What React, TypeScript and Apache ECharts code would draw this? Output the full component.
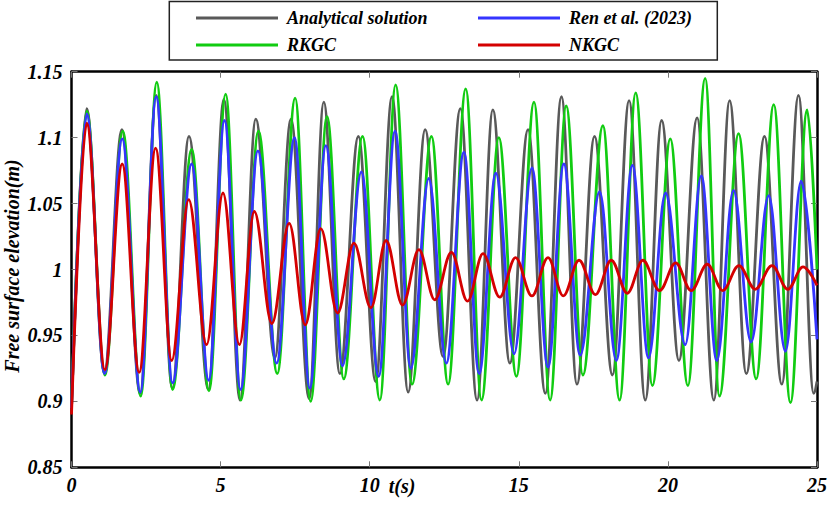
import React, { useEffect, useRef } from "react";
import * as echarts from "echarts";

// ---- data (t in s, free surface elevation in m), extrema of each curve ----
const X_MIN = 0;
const X_MAX = 25;
const X_STEP = 5;
const Y_MIN = 0.85;
const Y_MAX = 1.15;
const Y_STEP = 0.05;

const NAMES = ["Analytical solution", "RKGC", "Ren et al. (2023)", "NKGC"];

const analytical: [number, number][] = [
  [0, 0.895], [0.51, 1.122], [1.10, 0.922], [1.69, 1.106], [2.30, 0.906], [2.84, 1.132],
  [3.38, 0.910], [3.94, 1.101], [4.59, 0.909], [5.11, 1.129], [5.65, 0.901], [6.18, 1.114],
  [6.82, 0.933], [7.36, 1.114], [7.97, 0.902], [8.46, 1.127], [9.00, 0.921], [9.62, 1.101],
  [10.20, 0.915], [10.75, 1.131], [11.29, 0.907], [11.86, 1.106], [12.46, 0.934], [13.04, 1.122],
  [13.60, 0.901], [14.13, 1.121], [14.70, 0.929], [15.31, 1.106], [15.89, 0.906], [16.43, 1.131],
  [16.95, 0.913], [17.54, 1.101], [18.14, 0.920], [18.70, 1.128], [19.24, 0.901], [19.79, 1.113],
  [20.37, 0.931], [20.98, 1.115], [21.54, 0.901], [22.07, 1.128], [22.63, 0.921], [23.24, 1.101],
  [23.82, 0.913], [24.38, 1.132], [24.89, 0.906], [25, 0.915],
];

const rkgc: [number, number][] = [
  [0, 0.895], [0.51, 1.120], [1.12, 0.920], [1.72, 1.105], [2.32, 0.904], [2.86, 1.142],
  [3.39, 0.909], [4.03, 1.091], [4.61, 0.908], [5.17, 1.133], [5.68, 0.901], [6.27, 1.105],
  [6.90, 0.921], [7.50, 1.130], [8.02, 0.900], [8.57, 1.116], [9.13, 0.917], [9.76, 1.101],
  [10.34, 0.901], [10.87, 1.140], [11.42, 0.913], [12.07, 1.101], [12.63, 0.913], [13.22, 1.137],
  [13.75, 0.901], [14.33, 1.100], [14.92, 0.919], [15.51, 1.127], [16.05, 0.901], [16.59, 1.124],
  [17.15, 0.920], [17.82, 1.109], [18.38, 0.901], [18.92, 1.134], [19.48, 0.912], [20.08, 1.099],
  [20.67, 0.912], [21.25, 1.145], [21.73, 0.904], [22.37, 1.103], [22.96, 0.917], [23.55, 1.125],
  [24.11, 0.899], [24.67, 1.121], [25, 1.0],
];

const ren2023: [number, number][] = [
  [0, 0.895], [0.51, 1.118], [1.11, 0.921], [1.70, 1.099], [2.31, 0.907], [2.84, 1.131],
  [3.39, 0.914], [4.03, 1.080], [4.60, 0.916], [5.13, 1.113], [5.67, 0.909], [6.25, 1.090],
  [6.88, 0.929], [7.48, 1.100], [7.99, 0.910], [8.53, 1.094], [9.09, 0.927], [9.72, 1.074],
  [10.30, 0.919], [10.85, 1.105], [11.38, 0.925], [11.98, 1.069], [12.57, 0.929], [13.16, 1.089],
  [13.67, 0.921], [14.23, 1.073], [14.84, 0.936], [15.44, 1.077], [15.98, 0.926], [16.51, 1.080],
  [17.06, 0.935], [17.71, 1.059], [18.27, 0.931], [18.81, 1.079], [19.35, 0.933], [19.92, 1.058],
  [20.58, 0.943], [21.12, 1.071], [21.64, 0.931], [22.20, 1.060], [22.79, 0.945], [23.38, 1.056],
  [23.94, 0.938], [24.47, 1.067], [25, 0.947],
];

const nkgc: [number, number][] = [
  [0, 0.890], [0.51, 1.111], [1.12, 0.924], [1.70, 1.080], [2.27, 0.922], [2.82, 1.092],
  [3.36, 0.931], [3.93, 1.053], [4.53, 0.943], [5.08, 1.058], [5.63, 0.943], [6.13, 1.044],
  [6.72, 0.959], [7.30, 1.035], [7.84, 0.958], [8.36, 1.031], [8.92, 0.967], [9.47, 1.020],
  [10.04, 0.971], [10.55, 1.022], [11.10, 0.973], [11.65, 1.015], [12.18, 0.977], [12.74, 1.013],
  [13.28, 0.976], [13.80, 1.012], [14.36, 0.979], [14.89, 1.009], [15.44, 0.980], [15.98, 1.009],
  [16.49, 0.980], [17.02, 1.007], [17.57, 0.981], [18.10, 1.007], [18.64, 0.982], [19.16, 1.007],
  [19.72, 0.984], [20.26, 1.005], [20.78, 0.984], [21.32, 1.004], [21.84, 0.984], [22.38, 1.003],
  [22.93, 0.985], [23.49, 1.003], [24.02, 0.985], [24.53, 1.002], [25, 0.988],
];

const COLORS = ["#595959", "#11cc11", "#3535ff", "#d40000"];
const FONT = "'Liberation Serif', 'Times New Roman', serif";

export default function App() {
  const ref = useRef<HTMLDivElement>(null);

  useEffect(() => {
    if (!ref.current) return;
    const chart = echarts.init(ref.current, null, { renderer: "svg" });

    const labelStyle = {
      fontFamily: FONT,
      fontSize: 20,
      fontWeight: "bold" as const,
      fontStyle: "italic" as const,
      color: "#000",
    };
    const axisLine = { show: true, onZero: false, lineStyle: { color: "#000", width: 2.5 } };
    const axisTick = { show: true, inside: true, length: 6, lineStyle: { color: "#777", width: 1 } };

    const legendText = {
      fontFamily: FONT, fontSize: 18, fontWeight: "bold", fontStyle: "italic",
      color: "#000", lineHeight: 20, padding: [0, 0, 0, 4],
    };
    const legendBase = {
      orient: "vertical",
      top: 3,
      icon: "rect",
      itemWidth: 82,
      itemHeight: 3,
      itemGap: 7,
      selectedMode: false,
      textStyle: legendText,
    };

    const datasets = [analytical, rkgc, ren2023, nkgc];

    const option: any = {
      animation: false,
      backgroundColor: "#fff",
      grid: { left: 71.5, right: 12.5, top: 71.7, bottom: 46.7, containLabel: false },
      legend: [
        { ...legendBase, data: [NAMES[0], NAMES[1]], left: 191 },
        { ...legendBase, data: [NAMES[2], NAMES[3]], left: 473 },
      ],
      xAxis: [
        {
          type: "value", min: X_MIN, max: X_MAX, interval: X_STEP, position: "bottom",
          axisLine, axisTick, splitLine: { show: false },
          axisLabel: { ...labelStyle, margin: 8 },
        },
        {
          type: "value", min: X_MIN, max: X_MAX, interval: X_STEP, position: "top",
          axisLine, axisTick, splitLine: { show: false }, axisLabel: { show: false },
        },
      ],
      yAxis: [
        {
          type: "value", min: Y_MIN, max: Y_MAX, interval: Y_STEP, position: "left",
          axisLine, axisTick, splitLine: { show: false },
          axisLabel: {
            ...labelStyle, margin: 9,
            formatter: (v: number) => String(parseFloat(v.toFixed(2))),
          },
        },
        {
          type: "value", min: Y_MIN, max: Y_MAX, interval: Y_STEP, position: "right",
          axisLine, axisTick, splitLine: { show: false }, axisLabel: { show: false },
        },
      ],
      series: datasets.map((d, i) => ({
        name: NAMES[i],
        type: "line",
        xAxisIndex: 0,
        yAxisIndex: 0,
        data: d,
        symbol: "none",
        showSymbol: false,
        smooth: 0.36,
        smoothMonotone: "x",
        z: 2 + i,
        lineStyle: { color: COLORS[i], width: 2.8 },
        itemStyle: { color: COLORS[i] },
      })),
      graphic: [
        {
          type: "rect",
          shape: { x: 169.3, y: 1.5, width: 548, height: 58.5 },
          style: { fill: "none", stroke: "#222", lineWidth: 1.5 },
          silent: true,
        },
        {
          type: "text",
          x: 402,
          y: 486,
          style: {
            text: "t(s)", fontFamily: FONT, fontSize: 20, fontWeight: "bold", fontStyle: "italic",
            fill: "#000", align: "center", verticalAlign: "middle",
          },
          silent: true,
        },
        {
          type: "text",
          x: 12,
          y: 266,
          rotation: Math.PI / 2,
          style: {
            text: "Free surface elevation(m)", fontFamily: FONT, fontSize: 20, fontWeight: "bold",
            fontStyle: "italic", fill: "#000", align: "center", verticalAlign: "middle",
          },
          silent: true,
        },
      ],
    };

    chart.setOption(option);
    return () => chart.dispose();
  }, []);

  return (
    <div
      ref={ref}
      style={{ position: "absolute", left: 0, top: 0, width: 830, height: 514 }}
    />
  );
}
